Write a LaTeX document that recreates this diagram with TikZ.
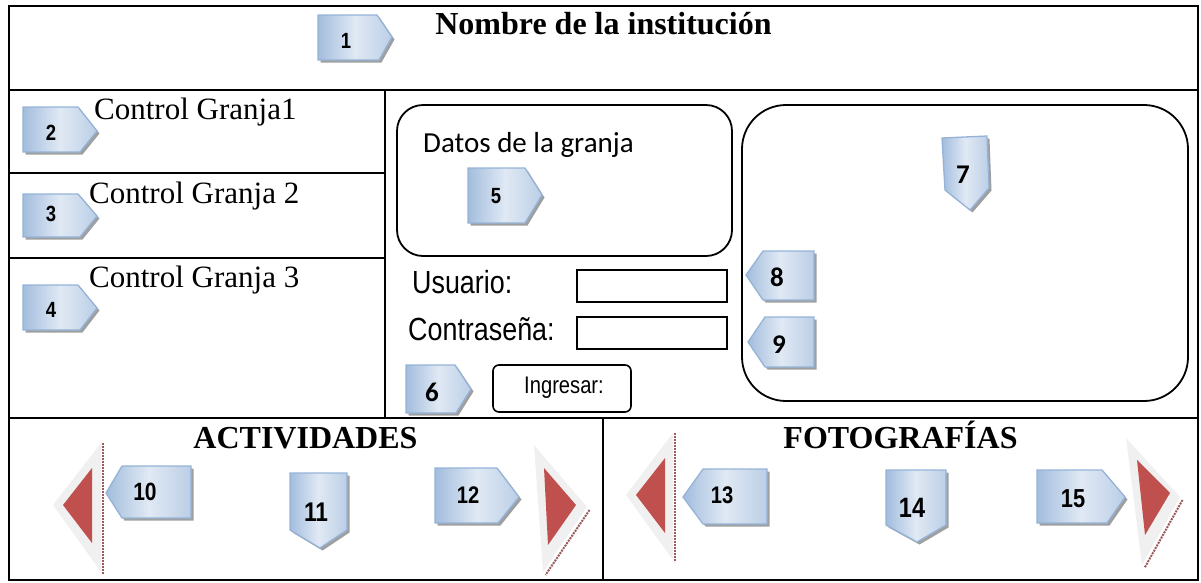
\documentclass[tikz,border=0pt]{standalone}
\usepackage{fontspec}
\setmainfont{Liberation Serif}
\newfontfamily\narrowsans[FakeStretch=0.84]{Liberation Sans}
\newfontfamily\calib{Carlito}
\definecolor{cborder}{HTML}{95B3D7}
\definecolor{cdark}{HTML}{A3BDDD}
\definecolor{clight}{HTML}{E0E9F4}
\definecolor{tred}{HTML}{C0504D}
\definecolor{tgray}{HTML}{F0F0F0}
\definecolor{tshadow}{HTML}{9C5A5A}
\newcommand{\cshape}[1]{\fill[cshadow] #1; \path[cfill] #1;}
\tikzset{
  frame/.style={line width=2.6pt, line cap=rect},
  rbox/.style={line width=1.8pt},
  fieldbox/.style={line width=1.6pt},
  cfill/.style={draw=cborder, line width=1.3pt, left color=cdark, right color=cdark!60!clight, middle color=clight, line join=miter},
  cshadow/.style={fill=gray!75, shift={(2.5,2.5)}},
  num/.style={inner sep=0pt, font=\narrowsans\bfseries\fontsize{22}{22}\selectfont},
  numc/.style={inner sep=0pt, font=\calib\bfseries\fontsize{27}{27}\selectfont},
  serifhead/.style={inner sep=0pt, anchor=base, font=\bfseries\fontsize{32}{36}\selectfont},
  seriftext/.style={inner sep=0pt, anchor=base west, font=\fontsize{31}{35}\selectfont},
  sanstext/.style={inner sep=0pt, anchor=base west, font=\narrowsans\fontsize{32}{36}\selectfont},
  trigray/.style={fill=tgray},
  trired/.style={fill=tred},
  trishadow/.style={draw=tshadow, line width=2pt, densely dotted},
}
\begin{document}
\begin{tikzpicture}[x=1pt,y=-1pt]
\useasboundingbox (0,0) rectangle (1201,582);
% frame
\draw[frame] (9,6) rectangle (1198,580);
\draw[frame] (9,90) -- (1198,90);
\draw[frame] (9,418) -- (1198,418);
\draw[frame] (385,90) -- (385,418);
\draw[frame] (603,418) -- (603,580);
\draw[frame] (9,173) -- (385,173);
\draw[frame] (9,258) -- (385,258);
% rounded boxes
\draw[rbox, rounded corners=26pt] (397,105) rectangle (732,256);
\draw[rbox, rounded corners=44pt] (742,105) rectangle (1188,401);
% fields and button
\draw[fieldbox] (577,270) rectangle (727,302);
\draw[fieldbox] (577,317) rectangle (727,349);
\draw[fieldbox, rounded corners=6pt] (493,365) rectangle (631,412);
% texts
\node[serifhead] (title) at (603.5,34) {Nombre de la institución};
\node[seriftext] (cg1) at (94,119) {Control Granja1};
\node[seriftext] (cg2) at (89,203) {Control Granja 2};
\node[seriftext] (cg3) at (89,287) {Control Granja 3};
\node[inner sep=0pt, anchor=base west, font=\calib\fontsize{29}{33}\selectfont] (datos) at (423,152) {Datos de la granja};
\node[sanstext] (usuario) at (412,293) {Usuario:};
\node[sanstext] (contra) at (408,340) {Contraseña:};
\node[inner sep=0pt, font=\narrowsans\fontsize{24}{26}\selectfont] (ingresar) at (564,388) {Ingresar:};
\node[serifhead] (act) at (305.5,448) {ACTIVIDADES};
\node[serifhead] (foto) at (900.5,448) {FOTOGRAFÍAS};
% callouts
\cshape{(318,15) -- (377,15) -- (392,37) -- (379,60) -- (318,60) -- cycle}
\node[num] (n1) at (346,41) {1};
\cshape{(23,107) -- (78,107) -- (97,131) -- (80,152) -- (23,152) -- cycle}
\node[num] (n2) at (51,133) {2};
\cshape{(23,194) -- (78,194) -- (97,216) -- (80,237) -- (23,237) -- cycle}
\node[num] (n3) at (51,214) {3};
\cshape{(23,285) -- (78,285) -- (97,308) -- (80,330) -- (23,330) -- cycle}
\node[num] (n4) at (51,310) {4};
\cshape{(468,168) -- (525,168) -- (542,195) -- (525,223) -- (468,223) -- cycle}
\node[num] (n5) at (496,196) {5};
\cshape{(406,365) -- (455,365) -- (471,389) -- (456,413) -- (406,413) -- cycle}
\node[numc] (n6) at (432,392) {6};
\cshape{(942,138) -- (987,136) -- (989,188) -- (970,210) -- (945,190) -- cycle}
\node[numc] (n7) at (963,175) {7};
\cshape{(746,275) -- (763,251) -- (814,251) -- (814,300) -- (763,300) -- cycle}
\node[numc] (n8) at (777,277) {8};
\cshape{(748,342) -- (765,317) -- (814,317) -- (814,367) -- (765,367) -- cycle}
\node[numc] (n9) at (779,345) {9};
\cshape{(106,493) -- (122,466) -- (191,466) -- (191,518) -- (122,518) -- cycle}
\node[num, font=\narrowsans\bfseries\fontsize{25}{25}\selectfont] (n10) at (145,492) {10};
\cshape{(290,473) -- (347,473) -- (347,530) -- (320,548) -- (290,530) -- cycle}
\node[num, font=\narrowsans\bfseries\fontsize{27}{27}\selectfont] (n11) at (316,512) {11};
\cshape{(435,468) -- (497,468) -- (519,497) -- (498,523) -- (435,523) -- cycle}
\node[num, font=\narrowsans\bfseries\fontsize{24}{24}\selectfont] (n12) at (468,495) {12};
\cshape{(683,497) -- (703,469) -- (767,469) -- (767,524) -- (703,524) -- cycle}
\node[num, font=\narrowsans\bfseries\fontsize{24}{24}\selectfont] (n13) at (722,495) {13};
\cshape{(886,470) -- (946,470) -- (946,525) -- (917,542) -- (886,525) -- cycle}
\node[num, font=\narrowsans\bfseries\fontsize{28}{28}\selectfont] (n14) at (912,508) {14};
\cshape{(1037,470) -- (1102,470) -- (1125,497) -- (1107,523) -- (1037,523) -- cycle}
\node[num, font=\narrowsans\bfseries\fontsize{26}{26}\selectfont] (n15) at (1073,499) {15};
% triangles
\draw[trishadow] (102.5,443) -- (102.5,574);
\fill[trigray] (53,505) -- (101,443) -- (101,572) -- cycle;
\fill[trired] (63,505) -- (92,468) -- (92,543) -- cycle;
\draw[trishadow] (589.5,510) -- (545.5,575);
\fill[trigray] (534,445) -- (587,507) -- (543,572) -- cycle;
\fill[trired] (544,468) -- (576,505) -- (548,545) -- cycle;
\draw[trishadow] (674.5,433) -- (674.5,562);
\fill[trigray] (626,495) -- (673,433) -- (673,560) -- cycle;
\fill[trired] (636,495) -- (665,458) -- (665,533) -- cycle;
\draw[trishadow] (1182.5,500) -- (1144.5,568);
\fill[trigray] (1126,438) -- (1180,497) -- (1142,565) -- cycle;
\fill[trired] (1137,460) -- (1170,493) -- (1145,535) -- cycle;
\end{tikzpicture}
\end{document}
